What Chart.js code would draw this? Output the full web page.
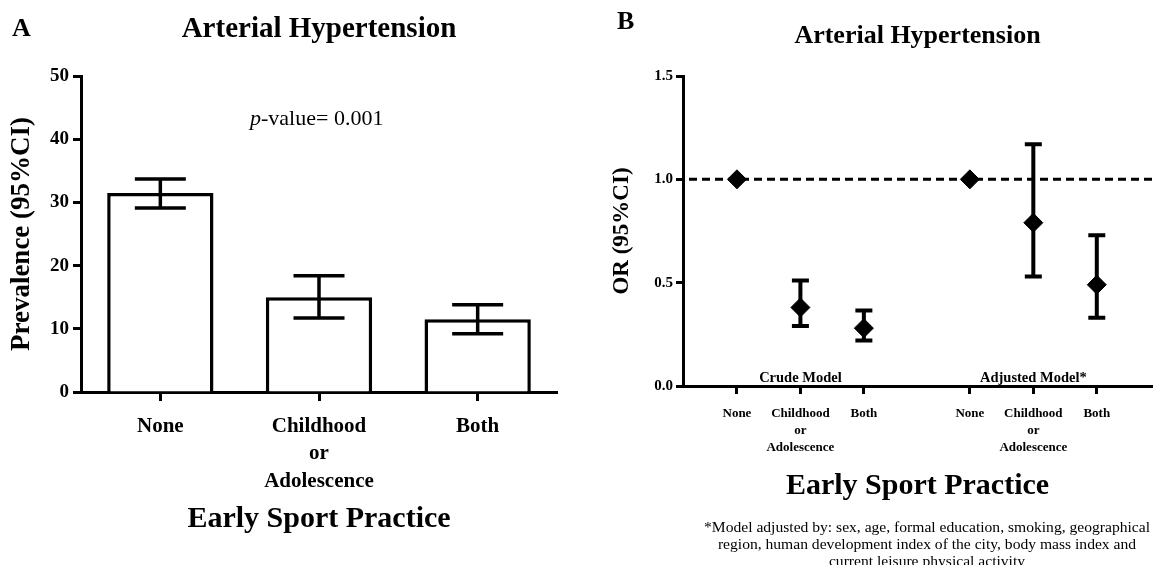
<!DOCTYPE html>
<html>
<head>
<meta charset="utf-8">
<script src="https://cdn.jsdelivr.net/npm/chart.js@4.4.1/dist/chart.umd.min.js"></script>
<style>
  body { margin: 0; background: #fff; }
  #wrap { position: relative; width: 1153px; height: 565px; overflow: hidden; font-family: 'Liberation Serif', serif; color: #000; }
  canvas { position: absolute; top: 0; }
  .txt { position: absolute; white-space: nowrap; }
</style>
</head>
<body>
<div id="wrap">
  <canvas id="chartA" width="575" height="565" style="left:0"></canvas>
  <canvas id="chartB" width="573" height="565" style="left:580px"></canvas>
  <div class="txt" style="left:12px;top:13px;font:bold 26px/30px 'Liberation Serif'">A</div>
  <div class="txt" style="left:617px;top:6px;font:bold 26px/30px 'Liberation Serif'">B</div>
  <div class="txt" style="left:250px;top:105px;font:22px/26px 'Liberation Serif'"><i>p</i>-value= 0.001</div>
  <div class="txt" style="left:690px;top:518px;width:474px;text-align:center;font:15.6px/17px 'Liberation Serif'">
    *Model adjusted by: sex, age, formal education, smoking, geographical<br>
    region, human development index of the city, body mass index and<br>
    current leisure physical activity
  </div>
</div>
<script>
// panel A - prevalence
const categories = ['None', ['Childhood', 'or', 'Adolescence'], 'Both'];
const prevalence = [31.5, 15.0, 11.5];
const prevLow = [29.1, 11.7, 9.2];
const prevHigh = [33.7, 18.4, 13.8];
const prevTicks = [0, 10, 20, 30, 40, 50];

// panel B - odds ratios
const groupNames = ['Crude Model', 'Adjusted Model*'];
const crudeOR = [1.0, 0.38, 0.28];
const crudeLow = [null, 0.29, 0.22];
const crudeHigh = [null, 0.51, 0.365];
const adjOR = [1.0, 0.79, 0.49];
const adjLow = [null, 0.53, 0.33];
const adjHigh = [null, 1.17, 0.73];
const orTicks = [0, 0.5, 1.0, 1.5];
const refValue = 1.0;

Chart.defaults.font.family = "'Liberation Serif', serif";
Chart.defaults.color = '#000';
Chart.defaults.animation = false;

// x position of a point in panel B (group k, category i)
function xPos(k, i) {
    return 1 + i + k * 3.67;
}

function makeErrorBars(sets, capWidth, lineWidth, under) {
    function draw(chart) {
        const ctx = chart.ctx;
        const y = chart.scales.y;
        ctx.save();
        ctx.strokeStyle = '#000';
        ctx.lineWidth = lineWidth;
        sets.forEach(s => {
            const meta = chart.getDatasetMeta(s.dataset);
            meta.data.forEach((el, i) => {
                if (s.low[i] == null) return;
                const yl = y.getPixelForValue(s.low[i]);
                const yh = y.getPixelForValue(s.high[i]);
                const w = capWidth / 2;
                ctx.beginPath();
                ctx.moveTo(el.x, yl); ctx.lineTo(el.x, yh);
                ctx.moveTo(el.x - w, yl); ctx.lineTo(el.x + w, yl);
                ctx.moveTo(el.x - w, yh); ctx.lineTo(el.x + w, yh);
                ctx.stroke();
            });
        });
        ctx.restore();
    }
    return under ? { id: 'errorBars', beforeDatasetsDraw: draw } : { id: 'errorBars', afterDatasetsDraw: draw };
}

const refLine = {
    id: 'refLine',
    beforeDatasetsDraw(chart) {
        const ctx = chart.ctx;
        const yp = chart.scales.y.getPixelForValue(refValue);
        ctx.save();
        ctx.strokeStyle = '#000';
        ctx.lineWidth = 3;
        ctx.setLineDash([8, 5]);
        ctx.beginPath();
        ctx.moveTo(chart.chartArea.left + 6, yp);
        ctx.lineTo(chart.chartArea.right, yp);
        ctx.stroke();
        ctx.restore();
    }
};

const groupLabels = {
    id: 'groupLabels',
    afterDraw(chart) {
        const ctx = chart.ctx;
        const x = chart.scales.x;
        ctx.save();
        ctx.font = "bold 14.5px 'Liberation Serif'";
        ctx.fillStyle = '#000';
        ctx.textAlign = 'center';
        ctx.textBaseline = 'alphabetic';
        groupNames.forEach((g, k) => {
            ctx.fillText(g, x.getPixelForValue(xPos(k, 1)), chart.chartArea.bottom - 4);
        });
        ctx.restore();
    }
};

const axisGrid = { drawOnChartArea: false, color: '#000', tickColor: '#000', tickWidth: 3 };
const axisBorder = { display: true, color: '#000', width: 3 };

new Chart(document.getElementById('chartA'), {
    type: 'bar',
    data: {
        labels: categories,
        datasets: [{
            data: prevalence,
            backgroundColor: '#fff',
            borderColor: '#000',
            borderWidth: 3.5,
            categoryPercentage: 1,
            barPercentage: 0.67
        }]
    },
    options: {
        responsive: false,
        layout: { padding: { left: 0, right: 18, top: 0, bottom: 0 } },
        plugins: {
            legend: { display: false },
            tooltip: { enabled: false },
            title: {
                display: true,
                text: 'Arterial Hypertension',
                fullSize: false,
                font: { size: 29, weight: 'bold' },
                padding: { top: 12, bottom: 29.2 }
            }
        },
        scales: {
            x: {
                afterFit: s => { s.height = 173; },
                grid: Object.assign({}, axisGrid, { offset: false, tickLength: 9 }),
                border: axisBorder,
                ticks: { font: { size: 21, weight: 'bold', lineHeight: 1.3 }, padding: 12, maxRotation: 0 },
                title: {
                    display: true,
                    text: 'Early Sport Practice',
                    font: { size: 30, weight: 'bold' },
                    padding: { top: 0, bottom: 28 }
                }
            },
            y: {
                min: 0,
                max: 50,
                afterFit: s => { s.width = 81; },
                afterBuildTicks: s => { s.ticks = prevTicks.map(v => ({ value: v })); },
                grid: Object.assign({}, axisGrid, { tickLength: 8 }),
                border: axisBorder,
                ticks: { font: { size: 19, weight: 'bold' }, padding: 4 },
                title: {
                    display: true,
                    text: 'Prevalence (95%CI)',
                    font: { size: 27, weight: 'bold' },
                    padding: { top: 6, bottom: 0 }
                }
            }
        }
    },
    plugins: [makeErrorBars([{ dataset: 0, low: prevLow, high: prevHigh }], 51, 3.5, false)]
});

function orPoints(k, values) {
    return values.map((v, i) => ({ x: xPos(k, i), y: v }));
}

const pointStyle = {
    showLine: false,
    pointStyle: 'rectRot',
    pointRadius: 9.5,
    pointBackgroundColor: '#000',
    pointBorderColor: '#000',
    pointBorderWidth: 1
};

new Chart(document.getElementById('chartB'), {
    type: 'scatter',
    data: {
        datasets: [
            Object.assign({ data: orPoints(0, crudeOR) }, pointStyle),
            Object.assign({ data: orPoints(1, adjOR) }, pointStyle)
        ]
    },
    options: {
        responsive: false,
        layout: { autoPadding: false, padding: { left: 0, right: 1, top: 0, bottom: 0 } },
        plugins: {
            legend: { display: false },
            tooltip: { enabled: false },
            title: {
                display: true,
                text: 'Arterial Hypertension',
                fullSize: false,
                font: { size: 26, weight: 'bold' },
                padding: { top: 21, bottom: 23.8 }
            }
        },
        scales: {
            x: {
                type: 'linear',
                min: 0.15,
                max: 7.54,
                afterFit: s => { s.height = 179; },
                afterBuildTicks: s => {
                    const t = [];
                    groupNames.forEach((g, k) => crudeOR.forEach((v, i) => t.push({ value: xPos(k, i) })));
                    s.ticks = t;
                },
                grid: Object.assign({}, axisGrid, { tickLength: 8 }),
                border: axisBorder,
                ticks: {
                    autoSkip: false,
                    maxRotation: 0,
                    font: { size: 13, weight: 'bold', lineHeight: 1.3 },
                    padding: 11,
                    callback: (v, i) => categories[i % categories.length]
                },
                title: {
                    display: true,
                    text: 'Early Sport Practice',
                    font: { size: 30, weight: 'bold' },
                    padding: { top: 0, bottom: 61 }
                }
            },
            y: {
                min: 0,
                max: 1.5,
                afterFit: s => { s.width = 103; },
                afterBuildTicks: s => { s.ticks = orTicks.map(v => ({ value: v })); },
                grid: Object.assign({}, axisGrid, { tickLength: 7 }),
                border: axisBorder,
                ticks: { font: { size: 15, weight: 'bold' }, padding: 3, callback: v => v.toFixed(1) },
                title: {
                    display: true,
                    text: 'OR (95%CI)',
                    font: { size: 23, weight: 'bold' },
                    padding: { top: 28, bottom: 0 }
                }
            }
        }
    },
    plugins: [
        refLine,
        makeErrorBars([
            { dataset: 0, low: crudeLow, high: crudeHigh },
            { dataset: 1, low: adjLow, high: adjHigh }
        ], 17, 4, true),
        groupLabels
    ]
});
</script>
</body>
</html>
